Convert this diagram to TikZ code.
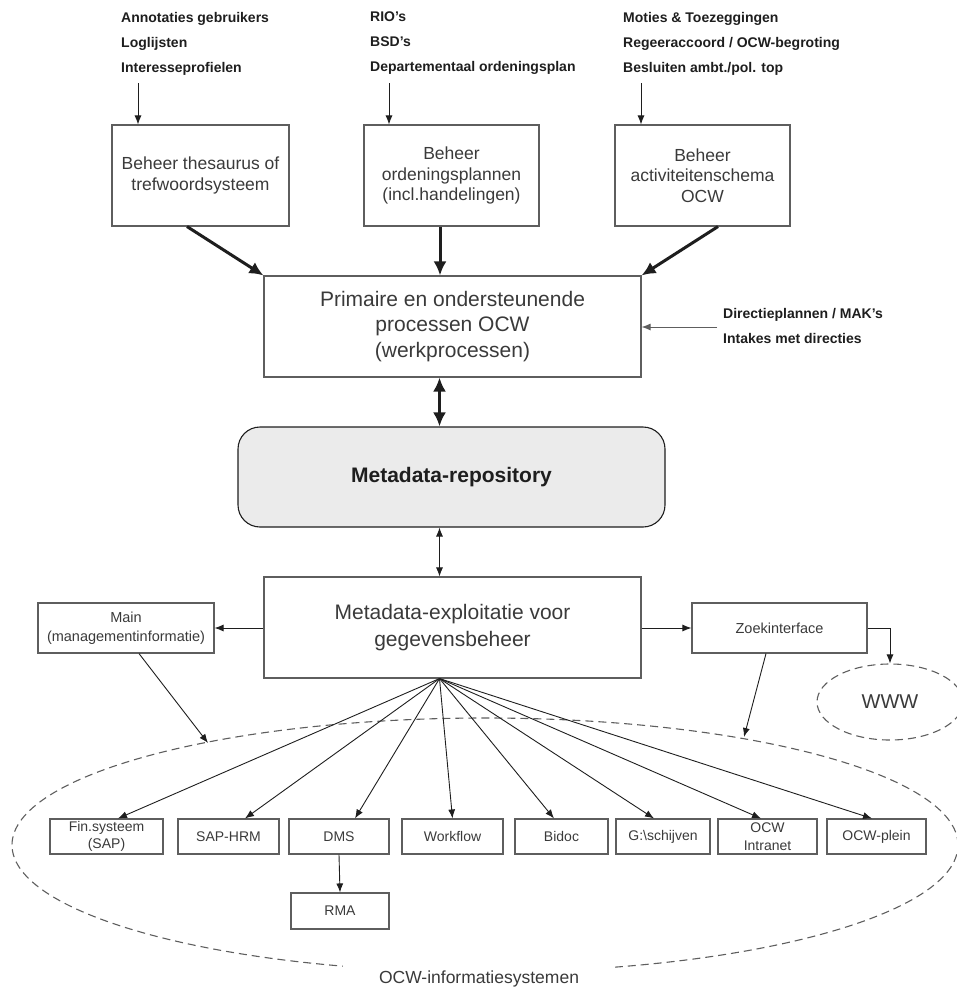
\documentclass[tikz,border=0pt]{standalone}
\usepackage{fontspec}
\setmainfont{Liberation Sans}
\usetikzlibrary{arrows.meta,calc,shapes.geometric}

\definecolor{boxgray}{HTML}{5E5E5E}
\definecolor{ink}{HTML}{1E1E1E}
\definecolor{txt}{HTML}{3A3A3A}
\definecolor{repofill}{HTML}{EBEBEB}

\begin{document}
\begin{tikzpicture}[x=1pt,y=-1pt,
  box/.style={draw=boxgray,line width=1.1pt,inner sep=0pt,align=center,text=txt},
  toplbl/.style={inner sep=0pt,align=left,text=ink,font=\bfseries\fontsize{14}{25}\selectfont},
  bigtxt/.style={font=\fontsize{21}{25.5}\selectfont},
  midtxt/.style={font=\fontsize{17.5}{20.5}\selectfont},
  smalltxt/.style={font=\fontsize{14.5}{19}\selectfont},
  systxt/.style={font=\fontsize{14}{17.5}\selectfont},
  thinarrow/.style={draw=ink,line width=0.9pt,-{Latex[length=9pt,width=7pt]}},
  thickarrow/.style={draw=ink,line width=3pt,-{Latex[length=14pt,width=13pt]}},
  thickboth/.style={draw=ink,line width=3pt,{Latex[length=14pt,width=13pt]}-{Latex[length=14pt,width=13pt]}},
  thinboth/.style={draw=ink,line width=0.9pt,{Latex[length=9pt,width=7pt]}-{Latex[length=9pt,width=7pt]}},
  dashline/.style={draw=boxgray,line width=1.1pt,dash pattern=on 8pt off 5pt}
]
\useasboundingbox (0,0) rectangle (957,990);
\clip (0,0) rectangle (957,990);

% input sources
\node[toplbl,anchor=north west] (src1) at (121,12) {Annotaties gebruikers\\Loglijsten\\Interesseprofielen};
\node[toplbl,anchor=north west] (src2) at (370,12) {RIO's\\BSD's\\Departementaal ordeningsplan};
\node[toplbl,anchor=north west] (src3) at (623,12) {Moties \& Toezeggingen\\Regeeraccoord / OCW-begroting\\Besluiten ambt./pol. top};

% management boxes
\node[box,midtxt,minimum width=177pt,minimum height=101pt] (thes) at (200.5,175.5) {Beheer thesaurus of\\trefwoordsysteem};
\node[box,midtxt,minimum width=175pt,minimum height=101pt] (orde) at (451.5,175.5) {Beheer\\ordeningsplannen\\(incl.handelingen)};
\node[box,midtxt,minimum width=175pt,minimum height=101pt] (acti) at (702.5,175.5) {Beheer\\activiteitenschema\\OCW};

\coordinate (in1) at (138,83);
\coordinate (in2) at (389,83);
\coordinate (in3) at (641,83);
\draw[thinarrow] (in1) -- (in1 |- thes.north);
\draw[thinarrow] (in2) -- (in2 |- orde.north);
\draw[thinarrow] (in3) -- (in3 |- acti.north);

% work processes
\node[box,bigtxt,minimum width=377pt,minimum height=101pt] (proc) at (452.5,326.5) {Primaire en ondersteunende\\processen OCW\\(werkprocessen)};

\draw[thickarrow] ([xshift=-13.5pt]thes.south) -- (proc.north west);
\draw[thickarrow] ([xshift=-11.5pt]orde.south) -- ([xshift=-12.5pt]proc.north);
\draw[thickarrow] ([xshift=15.5pt]acti.south) -- (proc.north east);

\node[toplbl,anchor=north west] (dir) at (723,308) {Directieplannen / MAK's\\Intakes met directies};
\coordinate (dirin) at (717,327);
\draw[draw=boxgray,line width=1pt,-{Latex[length=9pt,width=7pt]}] (dirin) -- (dirin -| proc.east);

% repository
\node[box,draw=ink,fill=repofill,rounded corners=22pt,minimum width=427pt,minimum height=100pt,
      text=ink,font=\bfseries\fontsize{21}{25}\selectfont] (repo) at (451.5,477) {Metadata-repository};

\coordinate (spine) at (439.5,0);
\draw[thickboth] (proc.south -| spine) -- (repo.north -| spine);

% exploitation
\node[box,bigtxt,minimum width=377pt,minimum height=101pt,font=\fontsize{21}{27}\selectfont] (expl) at (452.5,627.5) {Metadata-exploitatie voor\\gegevensbeheer};
\draw[thinboth] (repo.south -| spine) -- (expl.north -| spine);

\node[box,smalltxt,minimum width=176pt,minimum height=50pt] (mi) at (126,628) {Main\\(managementinformatie)};
\node[box,smalltxt,minimum width=175pt,minimum height=50pt] (zoek) at (779.5,628) {Zoekinterface};
\draw[thinarrow] (expl.west |- mi.east) -- (mi.east);
\draw[thinarrow] (expl.east |- zoek.west) -- (zoek.west);

% world wide web
\node[ellipse,dashline,minimum width=146pt,minimum height=76pt,inner sep=0pt,
      font=\fontsize{20}{24}\selectfont,text=txt] (www) at (890,702) {WWW};
\draw[thinarrow] (zoek.east) -| (www.north);

% information systems
\draw[dashline] (485,845) ellipse [x radius=473pt,y radius=127pt];
\node[fill=white,inner xsep=36pt,inner ysep=10pt,text=txt,font=\fontsize{17.5}{20}\selectfont] (sys) at (479,979) {OCW-informatiesystemen};

\coordinate (mEnd) at (208,743);
\coordinate (zEnd) at (744,737);
\draw[thinarrow] ([xshift=13pt]mi.south) -- (mEnd);
\draw[thinarrow] ([xshift=-13.5pt]zoek.south) -- (zEnd);

\node[box,systxt,minimum width=113pt,minimum height=35pt] (fin) at (106.5,836.5) {Fin.systeem\\(SAP)};
\node[box,systxt,minimum width=101pt,minimum height=35pt] (hrm) at (228.5,836.5) {SAP-HRM};
\node[box,systxt,minimum width=100pt,minimum height=35pt] (dms) at (339,836.5) {DMS};
\node[box,systxt,minimum width=101pt,minimum height=35pt] (wf) at (452.5,836.5) {Workflow};
\node[box,systxt,minimum width=93pt,minimum height=35pt] (bid) at (561.5,836.5) {Bidoc};
\node[box,systxt,minimum width=94pt,minimum height=35pt] (gs) at (663,836.5) {G:\textbackslash schijven};
\node[box,systxt,minimum width=99pt,minimum height=35pt] (intr) at (767.5,836.5) {OCW\\Intranet};
\node[box,systxt,minimum width=99pt,minimum height=35pt] (plein) at (876.5,836.5) {OCW-plein};
\node[box,systxt,minimum width=98pt,minimum height=36pt] (rma) at (340,911) {RMA};

\coordinate (hub) at (expl.south -| spine);
\draw[thinarrow] (hub) -- ([xshift=11.5pt]fin.north);
\draw[thinarrow] (hub) -- ([xshift=16.5pt]hrm.north);
\draw[thinarrow] (hub) -- ([xshift=16pt]dms.north);
\draw[thinarrow] (hub) -- (wf.north);
\draw[thinarrow] (hub) -- ([xshift=-7.5pt]bid.north);
\draw[thinarrow] (hub) -- ([xshift=-9pt]gs.north);
\draw[thinarrow] (hub) -- ([xshift=-6.5pt]intr.north);
\draw[thinarrow] (hub) -- ([xshift=-4.5pt]plein.north);
\draw[thinarrow] (dms.south) -- (rma.north);
\end{tikzpicture}
\end{document}
